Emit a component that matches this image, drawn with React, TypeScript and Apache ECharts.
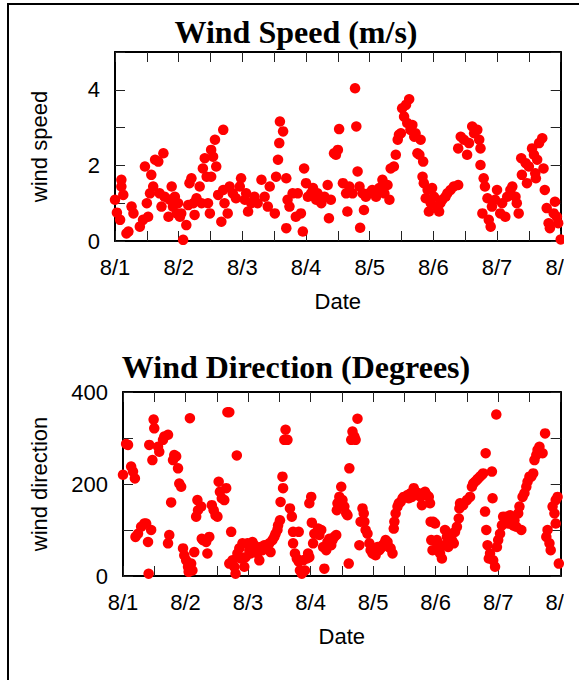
import React, { useEffect, useRef } from 'react';
import * as echarts from 'echarts';

// x values are days elapsed since 8/1 00:00
const DATE_LABELS = ['8/1', '8/2', '8/3', '8/4', '8/5', '8/6', '8/7', '8/8'];
const SPEED_LABELS = [0, 2, 4];
const DIRECTION_LABELS = [0, 200, 400];

// Wind speed (m/s): [day, value]
const speedPoints: [number, number][] = [
  [0.00, 1.09], [0.03, 0.75], [0.08, 0.56], [0.10, 1.62], [0.10, 1.44], [0.13, 1.22], [0.18, 0.20], [0.21, 0.25],
  [0.26, 0.91], [0.29, 0.73], [0.39, 0.38], [0.44, 0.56], [0.47, 1.97], [0.50, 1.00], [0.52, 0.64], [0.55, 1.26],
  [0.57, 1.75], [0.60, 1.44], [0.63, 2.15], [0.68, 2.10], [0.70, 1.26], [0.73, 0.91], [0.76, 2.32], [0.78, 1.17],
  [0.84, 0.64], [0.86, 1.09], [0.89, 1.44], [0.91, 0.91], [0.94, 1.17], [0.97, 0.73], [0.99, 1.00], [1.02, 0.64],
  [1.04, 0.73], [1.07, 0.03], [1.12, 0.42], [1.15, 0.95], [1.17, 1.53], [1.20, 1.66], [1.23, 1.00], [1.25, 0.69],
  [1.28, 1.13], [1.33, 1.44], [1.36, 1.00], [1.38, 1.92], [1.41, 2.19], [1.44, 1.70], [1.46, 1.00], [1.49, 0.73],
  [1.51, 1.70], [1.51, 2.41], [1.54, 2.23], [1.57, 2.68], [1.59, 1.97], [1.62, 1.22], [1.67, 0.51], [1.70, 2.94],
  [1.70, 1.35], [1.72, 1.00], [1.77, 0.73], [1.80, 1.44], [1.85, 1.26], [1.90, 1.13], [1.96, 1.44], [1.98, 1.66],
  [2.04, 1.09], [2.06, 1.26], [2.09, 0.78], [2.14, 1.00], [2.19, 1.17], [2.24, 1.00], [2.30, 1.62], [2.35, 1.17],
  [2.40, 0.91], [2.43, 1.44], [2.51, 0.73], [2.53, 1.70], [2.56, 2.15], [2.58, 2.59], [2.59, 3.16], [2.64, 2.90],
  [2.69, 1.66], [2.69, 0.34], [2.71, 1.09], [2.74, 0.91], [2.79, 1.26], [2.84, 0.64], [2.87, 1.26], [2.92, 0.73],
  [2.95, 0.25], [2.97, 1.92], [3.00, 1.53], [3.03, 1.17], [3.08, 1.26], [3.11, 1.40], [3.16, 1.09], [3.18, 1.26],
  [3.24, 1.00], [3.29, 1.17], [3.34, 1.48], [3.36, 0.60], [3.39, 1.09], [3.44, 2.32], [3.47, 2.28], [3.50, 2.41],
  [3.52, 2.96], [3.58, 1.53], [3.63, 1.26], [3.65, 0.78], [3.68, 1.44], [3.73, 1.26], [3.77, 4.04], [3.79, 3.03],
  [3.81, 1.84], [3.84, 1.44], [3.85, 0.35], [3.89, 1.26], [3.91, 0.82], [3.94, 1.17], [3.99, 1.26], [4.04, 1.35],
  [4.10, 1.17], [4.15, 1.40], [4.20, 1.62], [4.23, 1.26], [4.28, 1.48], [4.31, 1.09], [4.33, 1.92], [4.38, 1.97],
  [4.41, 2.28], [4.44, 2.68], [4.46, 2.81], [4.49, 2.85], [4.51, 3.51], [4.54, 3.29], [4.57, 3.60], [4.59, 3.12],
  [4.62, 3.75], [4.64, 2.94], [4.67, 3.07], [4.70, 2.76], [4.72, 2.85], [4.75, 2.32], [4.78, 2.28], [4.80, 2.68],
  [4.83, 1.70], [4.84, 2.10], [4.85, 1.53], [4.88, 1.13], [4.91, 1.35], [4.93, 0.78], [4.96, 1.00], [4.98, 1.40],
  [5.01, 1.17], [5.06, 0.91], [5.09, 0.78], [5.11, 1.00], [5.14, 1.09], [5.19, 1.17], [5.22, 1.26], [5.27, 1.35],
  [5.32, 1.44], [5.39, 1.48], [5.39, 2.45], [5.43, 2.76], [5.48, 2.68], [5.53, 2.28], [5.56, 2.59], [5.61, 3.03],
  [5.64, 2.85], [5.69, 2.94], [5.72, 2.68], [5.74, 2.45], [5.74, 2.01], [5.77, 0.73], [5.79, 1.66], [5.81, 1.44],
  [5.85, 1.13], [5.87, 0.56], [5.90, 0.38], [5.92, 0.91], [5.97, 1.09], [6.00, 1.35], [6.05, 0.73], [6.08, 1.00],
  [6.13, 0.64], [6.16, 1.17], [6.21, 1.35], [6.24, 1.44], [6.29, 1.17], [6.31, 1.00], [6.34, 0.73], [6.38, 2.19],
  [6.39, 1.75], [6.45, 2.06], [6.47, 1.53], [6.50, 1.97], [6.55, 2.45], [6.58, 2.28], [6.60, 1.79], [6.61, 1.66],
  [6.63, 2.15], [6.66, 2.59], [6.71, 2.72], [6.73, 1.92], [6.75, 1.35], [6.78, 0.87], [6.81, 0.47], [6.83, 0.34],
  [6.89, 0.73], [6.91, 1.04], [6.94, 0.64], [6.96, 0.47], [7.00, 0.04],
];

// Wind direction (degrees): [day, value]
const directionPoints: [number, number][] = [
  [0.00, 220], [0.05, 287], [0.08, 285], [0.13, 238], [0.16, 227], [0.19, 212], [0.20, 85], [0.24, 92],
  [0.29, 107], [0.34, 114], [0.37, 114], [0.40, 74], [0.41, 5], [0.42, 285], [0.45, 100], [0.47, 252],
  [0.49, 340], [0.50, 321], [0.56, 281], [0.58, 270], [0.64, 296], [0.66, 303], [0.72, 307], [0.72, 71],
  [0.74, 89], [0.77, 160], [0.80, 252], [0.82, 263], [0.85, 260], [0.88, 234], [0.90, 201], [0.93, 194],
  [0.96, 60], [0.98, 45], [1.01, 34], [1.04, 20], [1.05, 9], [1.07, 343], [1.09, 27], [1.11, 12],
  [1.14, 52], [1.17, 129], [1.19, 165], [1.20, 143], [1.25, 151], [1.26, 81], [1.28, 78], [1.33, 74],
  [1.35, 49], [1.38, 85], [1.42, 154], [1.45, 143], [1.48, 132], [1.51, 129], [1.53, 205], [1.55, 183],
  [1.58, 169], [1.62, 165], [1.65, 191], [1.67, 356], [1.70, 356], [1.70, 27], [1.73, 96], [1.75, 34],
  [1.78, 20], [1.80, 5], [1.82, 262], [1.83, 49], [1.86, 60], [1.88, 38], [1.91, 71], [1.94, 20],
  [1.96, 41], [1.99, 71], [2.02, 56], [2.04, 49], [2.07, 74], [2.10, 67], [2.12, 60], [2.15, 49],
  [2.18, 34], [2.20, 63], [2.23, 56], [2.26, 67], [2.28, 60], [2.31, 63], [2.34, 71], [2.36, 52],
  [2.39, 78], [2.42, 85], [2.44, 92], [2.47, 100], [2.48, 110], [2.51, 121], [2.52, 161], [2.55, 216],
  [2.56, 191], [2.58, 296], [2.60, 318], [2.63, 296], [2.67, 147], [2.70, 129], [2.72, 96], [2.72, 71],
  [2.75, 49], [2.78, 38], [2.81, 96], [2.81, 31], [2.83, 12], [2.86, 5], [2.88, 34], [2.91, 12],
  [2.94, 38], [2.96, 49], [2.98, 41], [2.98, 158], [3.01, 172], [3.02, 116], [3.04, 71], [3.06, 92],
  [3.12, 103], [3.14, 89], [3.17, 100], [3.20, 63], [3.22, 16], [3.25, 56], [3.27, 74], [3.30, 81],
  [3.33, 67], [3.35, 78], [3.38, 85], [3.41, 89], [3.42, 143], [3.43, 158], [3.46, 172], [3.49, 194],
  [3.51, 165], [3.54, 151], [3.57, 136], [3.59, 132], [3.61, 27], [3.62, 234], [3.65, 296], [3.67, 314],
  [3.70, 303], [3.72, 296], [3.75, 342], [3.78, 67], [3.80, 118], [3.83, 147], [3.85, 136], [3.86, 118],
  [3.88, 100], [3.91, 92], [3.94, 71], [3.96, 56], [3.99, 49], [4.02, 60], [4.04, 45], [4.07, 63],
  [4.10, 56], [4.12, 60], [4.15, 67], [4.18, 71], [4.20, 78], [4.23, 74], [4.25, 63], [4.28, 60],
  [4.31, 49], [4.33, 103], [4.34, 118], [4.36, 136], [4.39, 151], [4.41, 158], [4.44, 161], [4.47, 169],
  [4.49, 172], [4.52, 172], [4.55, 176], [4.57, 169], [4.60, 180], [4.62, 172], [4.65, 191], [4.68, 183],
  [4.70, 176], [4.73, 180], [4.76, 172], [4.78, 154], [4.81, 180], [4.83, 183], [4.86, 176], [4.89, 172],
  [4.91, 158], [4.92, 118], [4.93, 78], [4.95, 56], [4.96, 118], [4.99, 114], [5.02, 78], [5.04, 67],
  [5.07, 49], [5.10, 38], [5.13, 67], [5.15, 100], [5.18, 85], [5.20, 63], [5.23, 92], [5.26, 78],
  [5.29, 71], [5.31, 96], [5.34, 107], [5.37, 125], [5.38, 147], [5.39, 158], [5.44, 154], [5.50, 165],
  [5.55, 172], [5.58, 194], [5.60, 201], [5.63, 205], [5.66, 209], [5.68, 212], [5.71, 216], [5.74, 220],
  [5.76, 223], [5.79, 140], [5.80, 267], [5.81, 100], [5.83, 67], [5.85, 38], [5.87, 49], [5.90, 227],
  [5.91, 169], [5.92, 34], [5.95, 20], [5.97, 351], [5.98, 63], [6.00, 78], [6.03, 92], [6.06, 110],
  [6.08, 129], [6.11, 121], [6.13, 129], [6.16, 114], [6.19, 132], [6.21, 118], [6.24, 110], [6.26, 121],
  [6.29, 107], [6.32, 136], [6.34, 151], [6.37, 100], [6.39, 172], [6.42, 180], [6.45, 194], [6.47, 205],
  [6.50, 216], [6.53, 216], [6.56, 223], [6.58, 252], [6.61, 263], [6.63, 274], [6.66, 281], [6.71, 267],
  [6.75, 310], [6.77, 85], [6.79, 100], [6.82, 71], [6.84, 56], [6.87, 151], [6.90, 136], [6.92, 165],
  [6.92, 114], [6.95, 172], [6.97, 27],
];

const SANS = '"Liberation Sans", Arial, Helvetica, sans-serif';
const SERIF = '"Liberation Serif", "Times New Roman", serif';

export default function App() {
  const ref = useRef<HTMLDivElement>(null);

  useEffect(() => {
    document.body.style.margin = '0';
    const chart = echarts.init(ref.current as HTMLDivElement, null, { renderer: 'svg' });

    const labelStyle = { color: '#000', fontFamily: SANS, fontSize: 22 };
    const axisLine = { show: true, onZero: false, lineStyle: { color: '#000', width: 2 } };
    const axisTick = { show: true, inside: true, length: 10, lineStyle: { color: '#222', width: 1 } };
    const dayFmt = (v: number) => (Number.isInteger(v) ? DATE_LABELS[v] : '');

    const xAxes = [0, 1].flatMap((g) => [
      {
        type: 'value', gridIndex: g, position: 'bottom', min: 0, max: 7, interval: 0.5,
        axisLine, axisTick, splitLine: { show: false },
        axisLabel: { ...labelStyle, margin: 15, formatter: dayFmt, showMaxLabel: true, showMinLabel: true },
        name: 'Date', nameLocation: 'middle', nameGap: 49, nameTextStyle: labelStyle,
      },
      {
        type: 'value', gridIndex: g, position: 'top', min: 0, max: 7, interval: 0.5,
        axisLine, axisTick, splitLine: { show: false }, axisLabel: { show: false },
      },
    ]);

    const yPair = (g: number, max: number, interval: number, labels: number[], name: string, nameGap: number) => [
      {
        type: 'value', gridIndex: g, position: 'left', min: 0, max, interval,
        axisLine, axisTick, splitLine: { show: false },
        axisLabel: {
          ...labelStyle, margin: 15,
          formatter: (v: number) => (labels.includes(v) ? String(v) : ''),
        },
        name, nameLocation: 'middle', nameGap, nameRotate: 90, nameTextStyle: labelStyle,
      },
      {
        type: 'value', gridIndex: g, position: 'right', min: 0, max, interval,
        axisLine, axisTick, splitLine: { show: false }, axisLabel: { show: false },
      },
    ];

    chart.setOption({
      animation: false,
      grid: [
        { left: 115, top: 52, width: 447, height: 189 },
        { left: 123, top: 392, width: 440, height: 184 },
      ],
      xAxis: xAxes,
      yAxis: [
        ...yPair(0, 5, 1, SPEED_LABELS, 'wind speed', 65),
        ...yPair(1, 400, 100, DIRECTION_LABELS, 'wind direction', 73),
      ],
      series: [
        {
          type: 'scatter', xAxisIndex: 0, yAxisIndex: 0, data: speedPoints,
          symbolSize: 10.5, itemStyle: { color: '#ff0000', opacity: 1 }, silent: true,
        },
        {
          type: 'scatter', xAxisIndex: 2, yAxisIndex: 2, data: directionPoints,
          symbolSize: 10.5, itemStyle: { color: '#ff0000', opacity: 1 }, silent: true,
        },
      ],
      graphic: [
        {
          type: 'rect', z: 100, silent: true,
          shape: { x: 564, y: 6, width: 40, height: 700 },
          style: { fill: '#fff' },
        },
        {
          type: 'rect', z: 101, silent: true,
          shape: { x: 8, y: 4, width: 800, height: 800 },
          style: { fill: 'none', stroke: '#000', lineWidth: 2 },
        },
        {
          type: 'text', z: 101, silent: true, x: 296, y: 32,
          style: {
            text: 'Wind Speed (m/s)', font: `bold 32px ${SERIF}`, fill: '#000',
            textAlign: 'center', textVerticalAlign: 'middle',
          },
        },
        {
          type: 'text', z: 101, silent: true, x: 296, y: 367,
          style: {
            text: 'Wind Direction (Degrees)', font: `bold 32px ${SERIF}`, fill: '#000',
            textAlign: 'center', textVerticalAlign: 'middle',
          },
        },
      ],
    });

    return () => chart.dispose();
  }, []);

  return <div ref={ref} style={{ width: 579, height: 680 }} />;
}
